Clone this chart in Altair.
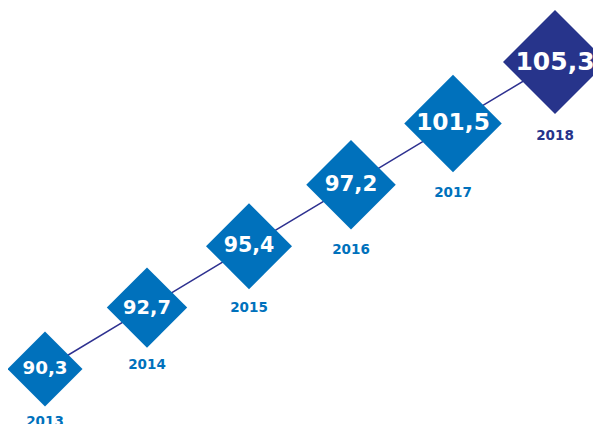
import altair as alt
import pandas as pd

years = [2013, 2014, 2015, 2016, 2017, 2018]
values = [90.3, 92.7, 95.4, 97.2, 101.5, 105.3]
value_labels = ["90,3", "92,7", "95,4", "97,2", "101,5", "105,3"]

BLUE = "#0071BC"
NAVY = "#27348B"
LINE = "#2E3190"

df = pd.DataFrame({"year": years, "value": values, "label": value_labels})

x = alt.X("year:Q", scale=alt.Scale(domain=[2012.6373, 2018.3725], nice=False, zero=False), axis=None)
y = alt.Y("year:Q", scale=alt.Scale(domain=[2012.1042, 2018.8794], nice=False, zero=False), axis=None)
color = alt.condition(alt.datum.year == 2018, alt.value(NAVY), alt.value(BLUE))

base = alt.Chart(df)

line = base.mark_line(color=LINE, strokeWidth=1.5).encode(x=x, y=y)

diamonds = base.mark_point(shape="diamond", filled=True, opacity=1, strokeWidth=0).encode(
    x=x,
    y=y,
    color=color,
    size=alt.Size("value:Q", scale=alt.Scale(domain=[90.3, 105.3], range=[5625, 10816]), legend=None),
)

vals = base.mark_text(font="DejaVu Sans", fontWeight="bold", color="white", baseline="middle", align="center").encode(
    x=x,
    y=y,
    text="label:N",
    size=alt.Size("value:Q", scale=alt.Scale(domain=[90.3, 105.3], range=[18.3, 25]), legend=None),
)

year_y = alt.Y("year:Q", scale=alt.Scale(domain=[2012.965, 2020.238], nice=False, zero=False), axis=None)
year_text = base.mark_text(font="DejaVu Sans", fontWeight="bold", fontSize=13.5, baseline="middle", align="center").encode(
    x=x,
    y=year_y,
    text="year:N",
    color=color,
)

chart = alt.layer(line, diamonds, vals, year_text).resolve_scale(y="independent", size="independent").properties(
    width=585, height=416, autosize=alt.AutoSizeParams(type="none"), padding=0
).configure_view(stroke=None)

chart.save("out.html", embed_options={"renderer": "svg", "actions": False})
